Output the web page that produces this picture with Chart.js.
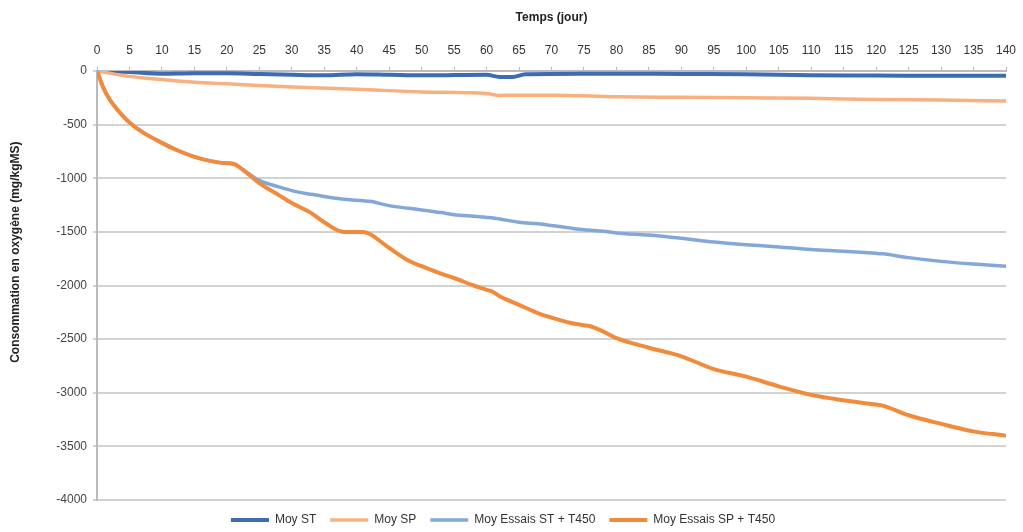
<!DOCTYPE html>
<html>
<head>
<meta charset="utf-8">
<script src="https://cdn.jsdelivr.net/npm/chart.js@4/dist/chart.umd.min.js"></script>
<style>
  html, body { margin: 0; padding: 0; background: #fff; }
  #wrap { width: 1023px; height: 532px; }
</style>
</head>
<body>
<div id="wrap"><canvas id="o2Chart" width="1023" height="532"></canvas></div>
<script>
// values (days / mg per kg MS)
const stDays = [0, 5, 10, 15, 20, 25, 30, 35, 40, 45, 50, 55, 60, 62, 64, 66, 70, 80, 90, 100, 110, 120, 130, 140];
const stVals = [0, -10, -25, -20, -20, -28, -35, -40, -30, -35, -40, -38, -35, -55, -55, -30, -28, -25, -28, -30, -40, -42, -45, -45];

const spDays = [0, 5, 10, 15, 20, 30, 40, 50, 60, 62, 65, 70, 80, 90, 100, 110, 120, 130, 140];
const spVals = [0, -50, -80, -105, -120, -150, -170, -195, -210, -228, -225, -225, -240, -245, -250, -255, -265, -270, -280];

const t450Days = [0, 1, 2, 3, 4, 5, 7, 10, 12, 15, 18, 20, 21, 22, 25, 28, 30, 33, 35, 38, 40, 41, 42, 45, 48, 50, 53, 55, 58, 60, 61, 62, 65, 68, 70, 73, 75, 76, 78, 80, 85, 90, 95, 100, 105, 110, 115, 120, 121, 125, 130, 135, 140];

const stT450Vals = [0, -160, -270, -350, -420, -480, -570, -670, -730, -800, -845, -860, -865, -900, -1020, -1080, -1115, -1150, -1170, -1195, -1205, -1210, -1215, -1255, -1280, -1295, -1320, -1340, -1355, -1365, -1370, -1380, -1410, -1425, -1440, -1465, -1480, -1485, -1495, -1510, -1530, -1560, -1595, -1620, -1640, -1665, -1680, -1700, -1705, -1740, -1775, -1800, -1820];

const spT450Vals = [0, -160, -270, -350, -420, -480, -570, -670, -730, -800, -845, -860, -865, -900, -1045, -1157, -1230, -1325, -1410, -1500, -1500, -1500, -1520, -1650, -1770, -1820, -1890, -1930, -2000, -2040, -2060, -2100, -2180, -2260, -2300, -2350, -2370, -2380, -2430, -2490, -2580, -2660, -2780, -2850, -2940, -3020, -3070, -3110, -3120, -3210, -3290, -3360, -3400];

const yTicksMin = -4000;
const yTicksMax = 0;
const seriesNames = ['Moy ST', 'Moy SP', 'Moy Essais ST + T450', 'Moy Essais SP + T450'];

function pts(days, vals) {
  return days.map((d, i) => ({ x: d, y: vals[i] }));
}

const tickFont = { family: 'Liberation Sans', size: 12 };
const titleFont = { family: 'Liberation Sans', size: 12, weight: 'bold' };

// keep the legend strip at a fixed height so the plot ends where the original does
const legendHeight = {
  id: 'legendHeight',
  beforeLayout(chart) {
    const lg = chart.legend;
    if (lg && !lg._fixedFit) {
      const origFit = lg.fit;
      lg.fit = function () { origFit.call(this); this.height = 32; };
      lg._fixedFit = true;
    }
  }
};

const ctx = document.getElementById('o2Chart').getContext('2d');
const o2Chart = new Chart(ctx, {
  type: 'line',
  data: {
    datasets: [
      { label: seriesNames[0], data: pts(stDays, stVals), borderColor: '#3D6CB4', backgroundColor: '#3D6CB4', borderWidth: 4, order: 4 },
      { label: seriesNames[1], data: pts(spDays, spVals), borderColor: '#F8B07E', backgroundColor: '#F8B07E', borderWidth: 3.5, order: 3 },
      { label: seriesNames[2], data: pts(t450Days, stT450Vals), borderColor: '#84A7D9', backgroundColor: '#84A7D9', borderWidth: 3.5, order: 2 },
      { label: seriesNames[3], data: pts(t450Days, spT450Vals), borderColor: '#F28A3B', backgroundColor: '#F28A3B', borderWidth: 4, order: 1 }
    ]
  },
  plugins: [legendHeight],
  options: {
    responsive: false,
    animation: false,
    layout: { padding: { right: 17, top: 0, left: 0, bottom: 0 } },
    elements: {
      point: { radius: 0 },
      line: { cubicInterpolationMode: 'monotone' }
    },
    plugins: {
      tooltip: { enabled: false },
      legend: {
        position: 'bottom',
        labels: {
          usePointStyle: true,
          pointStyle: 'line',
          pointStyleWidth: 38,
          boxHeight: 4,
          padding: 14,
          color: '#333',
          font: tickFont,
          sort: (a, b) => a.datasetIndex - b.datasetIndex
        }
      }
    },
    scales: {
      x: {
        type: 'linear',
        position: 'top',
        min: 0,
        max: 140,
        ticks: { stepSize: 5, color: '#333', font: tickFont, padding: 9 },
        grid: { display: true, drawOnChartArea: false, color: '#BBBBBB', tickLength: 4 },
        border: { color: '#BBBBBB', width: 2 },
        title: { display: true, text: 'Temps (jour)', color: '#222', font: titleFont, padding: { top: 10, bottom: 10 } },
        afterFit: s => { s.height = 71; s.paddingLeft = 0; s.paddingRight = 0; }
      },
      y: {
        min: yTicksMin,
        max: yTicksMax,
        ticks: { stepSize: 500, color: '#444', font: tickFont, padding: 6, callback: v => String(v) },
        grid: { color: '#D2D2D2', lineWidth: 2, tickLength: 4 },
        border: { color: '#BBBBBB', width: 2 },
        title: { display: true, text: '                    Consommation en oxygène (mg/kgMS)', color: '#222', font: titleFont, padding: { top: 8, bottom: 0 } },
        afterFit: s => { s.width = 97; s.paddingTop = 0; s.paddingBottom = 0; }
      }
    }
  }
});
</script>
</body>
</html>
